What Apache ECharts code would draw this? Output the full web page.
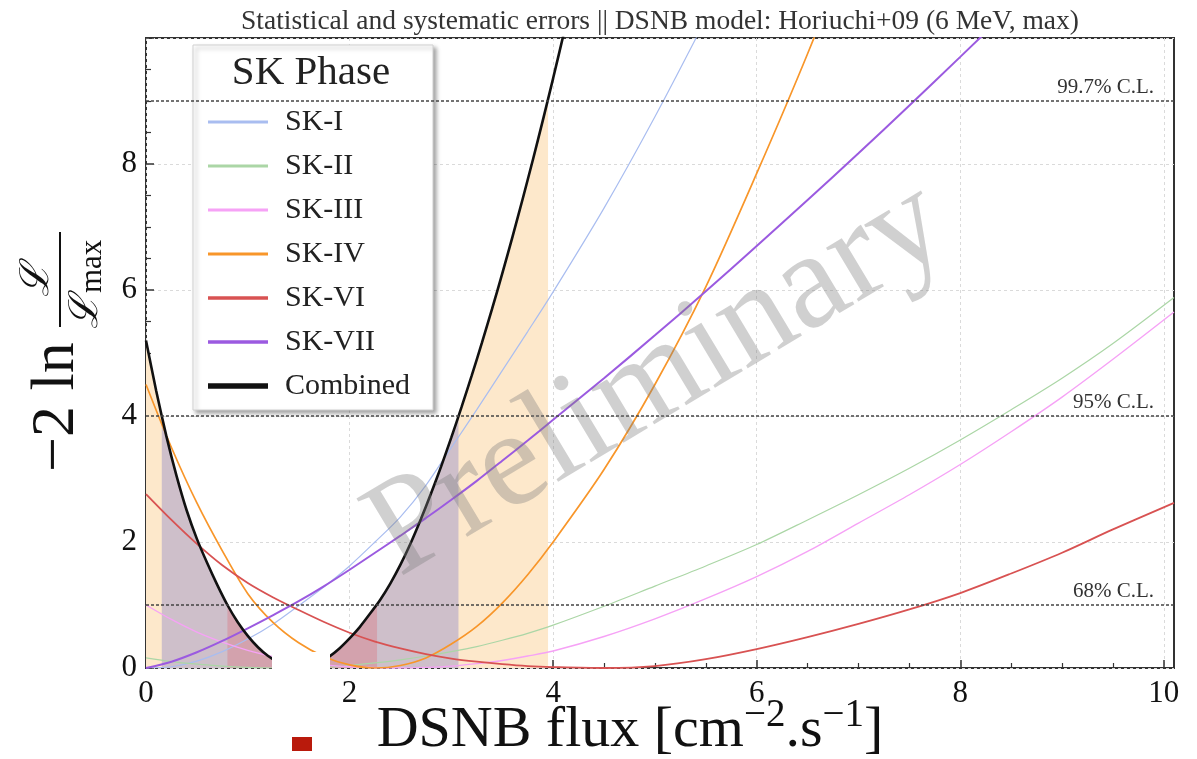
<!DOCTYPE html>
<html>
<head>
<meta charset="utf-8">
<script src="https://cdn.jsdelivr.net/npm/echarts@6/dist/echarts.min.js"></script>
<style>
  html, body { margin: 0; padding: 0; background: #fff; }
  #chart { width: 1197px; height: 759px; }
</style>
</head>
<body>
<div id="chart"></div>
<script>
// Flux grid shared by the individual SK phases [cm^-2 s^-1]
const fluxSK = [0, 0.25, 0.5, 0.75, 1, 1.25, 1.5, 1.75, 2, 2.25, 2.5, 2.75, 3, 3.25, 3.5, 3.75, 4,
                4.5, 5, 5.5, 6, 6.5, 7, 7.5, 8, 8.5, 9, 9.5, 10.1];

// -2 ln(L/Lmax) per phase
const chi2SK1 = [0, 0.02, 0.11, 0.26, 0.46, 0.7, 0.99, 1.29, 1.62, 2.0, 2.4, 2.9, 3.5, 4.1, 4.72, 5.34, 5.97,
                 7.3, 8.75, 10.3, null, null, null, null, null, null, null, null, null];
const chi2SK2 = [0.16, 0.1, 0.06, 0.03, 0.01, 0, 0, 0.01, 0.04, 0.08, 0.13, 0.19, 0.26, 0.34, 0.44, 0.55, 0.68,
                 0.98, 1.3, 1.62, 1.96, 2.35, 2.75, 3.17, 3.62, 4.1, 4.6, 5.15, 5.88];
const chi2SK3 = [1.0, 0.77, 0.57, 0.41, 0.28, 0.18, 0.1, 0.05, 0.02, 0.005, 0, 0.01, 0.03, 0.07, 0.12, 0.19, 0.27,
                 0.5, 0.78, 1.1, 1.45, 1.85, 2.3, 2.75, 3.23, 3.75, 4.3, 4.9, 5.65];
const chi2SK4 = [4.5, 3.5, 2.62, 1.86, 1.18, 0.72, 0.4, 0.18, 0.05, 0, 0.04, 0.16, 0.38, 0.66, 1.03, 1.48, 2.0,
                 3.15, 4.5, 6.05, 7.85, 9.75, 11.8, null, null, null, null, null, null];
const chi2SK6 = [2.76, 2.35, 1.97, 1.63, 1.35, 1.12, 0.92, 0.73, 0.56, 0.42, 0.31, 0.22, 0.15, 0.1, 0.06, 0.03, 0.015,
                 0, 0.03, 0.14, 0.3, 0.49, 0.7, 0.93, 1.19, 1.5, 1.83, 2.2, 2.62];
const chi2SK7 = [0, 0.1, 0.25, 0.43, 0.63, 0.84, 1.06, 1.3, 1.56, 1.83, 2.1, 2.38, 2.67, 2.97, 3.29, 3.61, 3.94,
                 4.6, 5.28, 5.98, 6.7, 7.43, 8.17, 8.93, 9.7, 10.48, null, null, null];

// Combined likelihood on a finer grid
const fluxCombined = [0, 0.1, 0.2, 0.3, 0.4, 0.5, 0.6, 0.7, 0.8, 0.9, 1.0, 1.1, 1.2, 1.3, 1.4, 1.5, 1.6, 1.7, 1.8, 1.9,
                      2.0, 2.1, 2.2, 2.3, 2.4, 2.5, 2.6, 2.7, 2.8, 2.9, 3.0, 3.1, 3.2, 3.3, 3.4, 3.5, 3.6, 3.7, 3.8,
                      3.9, 4.0, 4.1, 4.2];
const chi2Combined = [5.2, 4.4, 3.68, 3.05, 2.5, 2.05, 1.67, 1.32, 1.0, 0.73, 0.51, 0.33, 0.19, 0.09, 0.025, 0,
                      0.02, 0.08, 0.18, 0.31, 0.47, 0.65, 0.86, 1.08, 1.34, 1.64, 1.98, 2.36, 2.77, 3.2, 3.66, 4.14,
                      4.64, 5.16, 5.7, 6.26, 6.84, 7.44, 8.06, 8.7, 9.36, 10.04, 10.75];

// Confidence levels and the flux intervals allowed by the combined fit
const clLevels = [1, 4, 9];
const clNames = ['68% C.L.', '95% C.L.', '99.7% C.L.'];
const clLow = [0.80, 0.155, 0];
const clHigh = [2.27, 3.07, 3.95];

const phaseNames = ['SK-I', 'SK-II', 'SK-III', 'SK-IV', 'SK-VI', 'SK-VII', 'Combined'];
const xTickLabels = [0, 2, 4, 6, 8, 10];
const xMinorTicks = [0.5, 1, 1.5, 2.5, 3, 3.5, 4.5, 5, 5.5, 6.5, 7, 7.5, 8.5, 9, 9.5];

const SERIF = '"Liberation Serif", "DejaVu Serif", serif';

function pairs(xs, ys) {
  return xs.map((x, i) => [x, ys[i]]);
}

// Linear interpolation of the combined curve
function combinedAt(x) {
  for (let i = 0; i < fluxCombined.length - 1; i++) {
    const x0 = fluxCombined[i], x1 = fluxCombined[i + 1];
    if (x >= x0 && x <= x1) {
      const t = (x - x0) / (x1 - x0);
      return chi2Combined[i] + t * (chi2Combined[i + 1] - chi2Combined[i]);
    }
  }
  return null;
}

// Area under the combined curve restricted to [lo, hi]
function bandData(lo, hi) {
  const pts = [[lo, combinedAt(lo)]];
  fluxCombined.forEach((x, i) => { if (x > lo && x < hi) pts.push([x, chi2Combined[i]]); });
  pts.push([hi, combinedAt(hi)]);
  return pts;
}

const bandColors = ['#fde8cb', '#cebfca', '#d3a2ad'];
const bandOrder = [2, 1, 0]; // widest first
const bandSeries = bandOrder.map((k, j) => ({
  name: 'band' + k,
  type: 'line',
  data: bandData(clLow[k], clHigh[k]),
  symbol: 'none',
  silent: true,
  z: 1 + j * 0.1,
  lineStyle: { width: 0 },
  areaStyle: { color: bandColors[j], opacity: 1 }
}));

const phaseStyle = {
  'SK-I':   { color: '#a9bdf0', width: 1.2 },
  'SK-II':  { color: '#abd6a6', width: 1.2 },
  'SK-III': { color: '#f6a2f6', width: 1.4 },
  'SK-IV':  { color: '#f8962a', width: 1.7 },
  'SK-VI':  { color: '#d85252', width: 1.8 },
  'SK-VII': { color: '#9b5ae0', width: 2.0 }
};
const phaseData = {
  'SK-I': chi2SK1, 'SK-II': chi2SK2, 'SK-III': chi2SK3,
  'SK-IV': chi2SK4, 'SK-VI': chi2SK6, 'SK-VII': chi2SK7
};

const phaseSeries = Object.keys(phaseData).map(name => ({
  name: name,
  type: 'line',
  data: pairs(fluxSK, phaseData[name]),
  symbol: 'none',
  smooth: 0.3,
  z: 2,
  color: phaseStyle[name].color,
  lineStyle: { color: phaseStyle[name].color, width: phaseStyle[name].width }
}));

const combinedSeries = {
  name: 'Combined',
  type: 'line',
  data: pairs(fluxCombined, chi2Combined),
  symbol: 'none',
  smooth: 0.2,
  z: 3,
  color: '#111',
  lineStyle: { color: '#111', width: 2.6 },
  markLine: {
    silent: true,
    symbol: ['none', 'none'],
    lineStyle: { color: '#444', type: [3, 2], width: 1.6 },
    label: {
      position: 'insideEndTop',
      formatter: '{b}',
      color: '#333',
      fontFamily: SERIF,
      fontSize: 21,
      distance: [20, 3]
    },
    data: clLevels.map((v, i) => ({ yAxis: v, name: clNames[i] }))
  }
};

// legend swatches: thin bars, thicker for the combined fit
const legendIcon = {
  'SK-I': 'path://M0,0H60V3H0Z', 'SK-II': 'path://M0,0H60V3H0Z', 'SK-III': 'path://M0,0H60V3H0Z',
  'SK-IV': 'path://M0,0H60V3H0Z', 'SK-VI': 'path://M0,0H60V3.5H0Z', 'SK-VII': 'path://M0,0H60V3.5H0Z',
  'Combined': 'path://M0,0H60V5.5H0Z'
};

const chart = echarts.init(document.getElementById('chart'), null, { renderer: 'canvas' });
chart.setOption({
  animation: false,
  backgroundColor: '#fff',
  title: {
    text: 'Statistical and systematic errors || DSNB model: Horiuchi+09 (6 MeV, max)',
    left: 236,
    top: 3,
    textStyle: { fontFamily: SERIF, fontSize: 27.5, fontWeight: 'normal', color: '#333' }
  },
  grid: {
    left: 146, right: 23, top: 38, bottom: 91,
    show: true, borderColor: '#333', borderWidth: 2, backgroundColor: 'transparent'
  },
  legend: {
    data: phaseNames.map(n => ({ name: n, icon: legendIcon[n] })),
    orient: 'vertical',
    left: 203,
    top: 102,
    itemWidth: 60,
    itemHeight: 14,
    itemGap: 14,
    selectedMode: false,
    textStyle: { fontFamily: SERIF, fontSize: 30, color: '#222', padding: [0, 0, 0, 12] },
    z: 6
  },
  xAxis: [{
    type: 'value', min: 0, max: 10.1, interval: 2,
    axisLine: { show: false },
    axisTick: { show: true, inside: true, length: 8, customValues: xTickLabels,
                lineStyle: { color: '#333', width: 1.5 } },
    axisLabel: { customValues: xTickLabels, fontFamily: SERIF, fontSize: 31, color: '#111', margin: 10 },
    splitLine: { show: true, lineStyle: { color: '#dadada', type: [3, 3], width: 1 } }
  }, {
    type: 'value', min: 0, max: 10.1, position: 'bottom',
    axisLine: { show: false },
    axisTick: { show: true, inside: true, length: 5, customValues: xMinorTicks,
                lineStyle: { color: '#333', width: 1.2 } },
    axisLabel: { show: false },
    splitLine: { show: false }
  }],
  yAxis: {
    type: 'value', min: 0, max: 10, interval: 2,
    axisLine: { show: false },
    axisTick: { show: true, inside: true, length: 8, lineStyle: { color: '#333', width: 1.5 } },
    minorTick: { show: true, splitNumber: 4, length: 5, lineStyle: { color: '#333', width: 1.2 } },
    axisLabel: { fontFamily: SERIF, fontSize: 31, color: '#111', margin: 9,
                 formatter: v => (v >= 10 ? '' : String(v)) },
    splitLine: { show: true, lineStyle: { color: '#dadada', type: [3, 3], width: 1 } }
  },
  series: [...bandSeries, ...phaseSeries, combinedSeries],
  graphic: [
    // legend frame with title
    {
      type: 'rect', z: 5,
      shape: { x: 193, y: 45, width: 240, height: 365 },
      style: { fill: '#fff', stroke: '#d0d0d0', lineWidth: 1,
               shadowBlur: 4, shadowOffsetX: 3, shadowOffsetY: 3, shadowColor: 'rgba(0,0,0,0.35)' }
    },
    {
      type: 'text', z: 7, x: 311, y: 73,
      style: { text: 'SK Phase', font: '41px ' + SERIF, fill: '#222', align: 'center', verticalAlign: 'middle' }
    },
    // y-axis title: -2 ln L/Lmax
    {
      type: 'group', x: 0, y: 472, rotation: Math.PI / 2, z: 7,
      children: [
        { type: 'text', x: 0, y: 57,
          style: { text: '−2 ln', font: '62px ' + SERIF, fill: '#111', align: 'left', verticalAlign: 'middle' } },
        { type: 'line', shape: { x1: 145, y1: 60, x2: 240, y2: 60 }, style: { stroke: '#111', lineWidth: 2 } },
        { type: 'text', x: 192, y: 37,
          style: { text: 'ℒ', font: 'italic 40px ' + SERIF, fill: '#111', align: 'center', verticalAlign: 'middle' } },
        { type: 'text', x: 160, y: 86,
          style: { text: 'ℒ', font: 'italic 40px ' + SERIF, fill: '#111', align: 'center', verticalAlign: 'middle' } },
        { type: 'text', x: 179, y: 93,
          style: { text: 'max', font: '31px ' + SERIF, fill: '#111', align: 'left', verticalAlign: 'middle' } }
      ]
    },
    // x-axis title
    {
      type: 'text', z: 7, x: 630, y: 731,
      style: {
        text: 'DSNB flux [cm{sup|−2}.s{sup|−1}]',
        font: '58px ' + SERIF, fill: '#111', align: 'center', verticalAlign: 'middle',
        rich: { sup: { fontFamily: SERIF, fontSize: 39, fill: '#111', padding: [0, 0, 31, 0] } }
      }
    },
    // watermark
    {
      type: 'text', z: 20, x: 658, y: 380, rotation: 31 * Math.PI / 180,
      style: { text: 'Preliminary', font: '137px ' + SERIF, fill: 'rgba(125,125,125,0.36)',
               align: 'center', verticalAlign: 'middle' }
    },
    // blank patch and marker
    { type: 'rect', z: 21, shape: { x: 272, y: 652, width: 58, height: 50 }, style: { fill: '#fff' } },
    { type: 'rect', z: 21, shape: { x: 292, y: 737, width: 20, height: 14 }, style: { fill: '#b91a0c' } }
  ]
});
</script>
</body>
</html>
